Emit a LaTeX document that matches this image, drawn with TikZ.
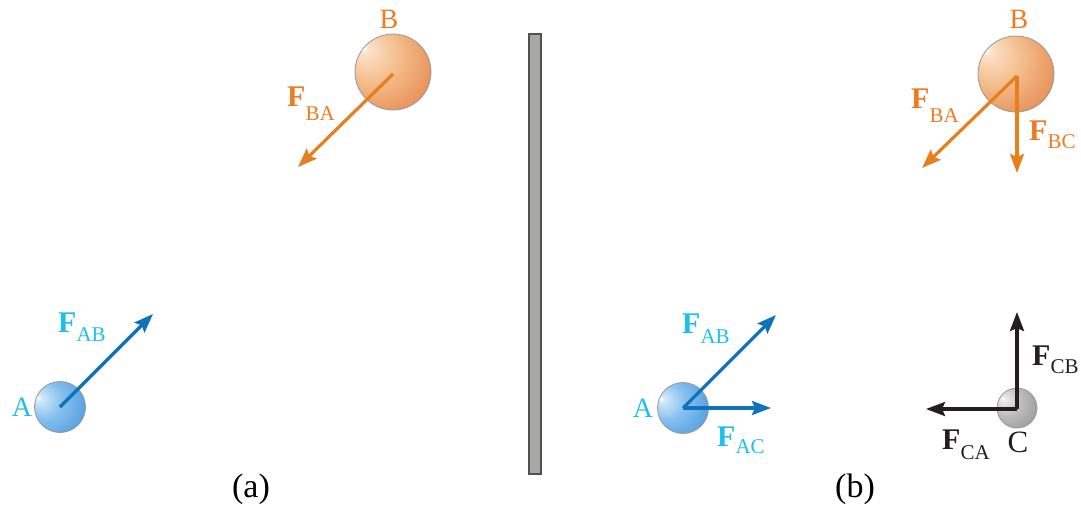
\documentclass[tikz,border=0pt]{standalone}
\usepackage{fontspec}
\setmainfont{Liberation Serif}
\usetikzlibrary{arrows.meta}
\definecolor{oA}{HTML}{FBE2C8}
\definecolor{oB}{HTML}{F4BE8C}
\definecolor{oC}{HTML}{E5874F}
\definecolor{oD}{HTML}{CB5430}
\definecolor{bA}{HTML}{D0E8F9}
\definecolor{bB}{HTML}{86C0EE}
\definecolor{bC}{HTML}{4A9ADE}
\definecolor{bD}{HTML}{2A80CC}
\definecolor{gA}{HTML}{EAEAEA}
\definecolor{gB}{HTML}{BDBDBD}
\definecolor{gC}{HTML}{959595}
\definecolor{gD}{HTML}{777777}
\definecolor{orangetext}{HTML}{F07A22}
\definecolor{orangearrow}{HTML}{E67F1E}
\definecolor{cyantext}{HTML}{1CC0EE}
\definecolor{bluearrow}{HTML}{0E73BB}
\definecolor{darkarrow}{HTML}{231F20}
\definecolor{wallfill}{HTML}{A8A8A6}
\definecolor{wallline}{HTML}{505050}
\pgfdeclareradialshading{orangeball}{\pgfpoint{-20bp}{16bp}}{color(0bp)=(white); color(3bp)=(oA); color(18bp)=(oB); color(40bp)=(oC); color(62bp)=(oD)}
\pgfdeclareradialshading{blueball}{\pgfpoint{-22bp}{9bp}}{color(0bp)=(white); color(3bp)=(bA); color(18bp)=(bB); color(40bp)=(bC); color(62bp)=(bD)}
\pgfdeclareradialshading{grayball}{\pgfpoint{-18bp}{12bp}}{color(0bp)=(white); color(3bp)=(gA); color(18bp)=(gB); color(40bp)=(gC); color(62bp)=(gD)}
\newcommand{\forcelab}[2]{{\fontsize{30}{30}\selectfont\textbf{F}}\raisebox{-#2pt}{\fontsize{21}{21}\selectfont #1}}
\tikzset{
  ballstyle/.style={draw=gray!80, line width=0.8pt},
  forcearrow/.style={line width=3.2pt, -{Stealth[length=19pt,width=14pt,inset=3pt]}},
  orangeF/.style={forcearrow, draw=orangearrow},
  blueF/.style={forcearrow, draw=bluearrow},
  darkF/.style={forcearrow, draw=darkarrow},
  lab/.style={inner sep=0pt, font=\fontsize{28}{28}\selectfont},
  flab/.style={inner sep=0pt, anchor=base west},
}
\begin{document}
\begin{tikzpicture}[x=1pt,y=-1pt]
\useasboundingbox (0,0) rectangle (1081,509);
% wall
\node[draw=wallline, fill=wallfill, line width=1.2pt, minimum width=12pt, minimum height=440pt, inner sep=0pt] (wall) at (535,254) {};
% ---------- (a) ----------
\path[ballstyle, shading=orangeball] (393,72) circle (38);
\coordinate (Ba) at (393,74);
\path[ballstyle, shading=blueball] (60,407) circle (25.5);
\coordinate (Aa) at (60,407);
\coordinate (BAa) at (298,167);
\coordinate (ABa) at (153,314);
\draw[orangeF] (Ba) -- (BAa);
\draw[blueF] (Aa) -- (ABa);
\node[lab, text=orangetext] (labBa) at (389,19) {B};
\node[lab, text=cyantext] (labAa) at (22,407) {A};
\node[flab, text=orangetext] (fBAa) at (287,106) {\forcelab{BA}{14}};
\node[flab, text=cyantext] (fABa) at (58,332) {\forcelab{AB}{9}};
\node[lab, font=\fontsize{34}{34}\selectfont] (capa) at (251,489) {(a)};
% ---------- (b) ----------
\path[ballstyle, shading=orangeball] (1016,74) circle (38);
\coordinate (Bb) at (1017,76);
\path[ballstyle, shading=blueball] (683,408) circle (25.5);
\coordinate (Ab) at (683,408);
\path[ballstyle, shading=grayball] (1017,408) circle (20);
\coordinate (Cb) at (1017,409);
\coordinate (BAb) at (922,168);
\coordinate (BCb) at (1017,173);
\coordinate (ABb) at (776,315);
\coordinate (ACb) at (771,408);
\coordinate (CBb) at (1017,312);
\coordinate (CAb) at (926,409);
\draw[orangeF] (Bb) -- (BAb);
\draw[orangeF] (Bb) -- (BCb);
\draw[blueF] (Ab) -- (ABb);
\draw[blueF] (Ab) -- (ACb);
\draw[darkF] (Cb) -- (CBb);
\draw[darkF] (Cb) -- (CAb);
\node[lab, text=orangetext] (labBb) at (1019,19) {B};
\node[lab, text=cyantext] (labAb) at (643,408) {A};
\node[lab, text=darkarrow, font=\fontsize{31}{31}\selectfont] (labCb) at (1018,442) {C};
\node[flab, text=orangetext] (fBAb) at (911,108) {\forcelab{BA}{14}};
\node[flab, text=orangetext] (fBCb) at (1029,140) {\forcelab{BC}{8}};
\node[flab, text=cyantext] (fABb) at (682,333) {\forcelab{AB}{10}};
\node[flab, text=cyantext] (fACb) at (717,446) {\forcelab{AC}{7}};
\node[flab, text=darkarrow] (fCBb) at (1032,365) {\forcelab{CB}{8}};
\node[flab, text=darkarrow] (fCAb) at (942,449) {\forcelab{CA}{10}};
\node[lab, font=\fontsize{34}{34}\selectfont] (capb) at (855,489) {(b)};
\end{tikzpicture}
\end{document}
